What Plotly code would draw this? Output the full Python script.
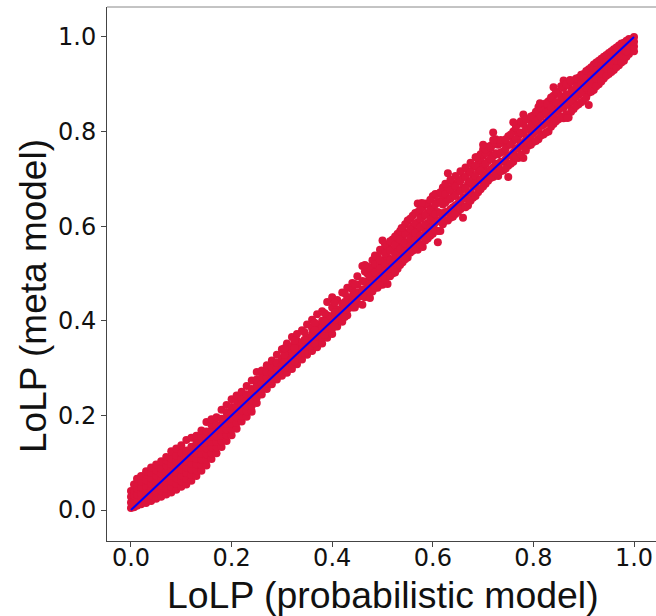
import plotly.graph_objects as go

# LoLP values, one x value per column of dots
x_columns = [0.0,0.006,0.012,0.02,0.03,0.04,0.05,0.06,0.07,0.08,0.09,0.10,0.11,0.12,0.13,0.14,0.15,0.16,0.17,0.18,
 0.19,0.20,0.21,0.22,0.23,0.24,0.25,0.26,0.27,0.28,0.29,0.30,0.31,0.32,0.33,0.34,0.35,0.36,0.37,0.38,0.39,0.40,
 0.41,0.42,0.43,0.44,0.45,0.46,0.47,0.48,0.49,0.50,0.51,0.52,0.53,0.54,0.55,0.56,0.57,0.58,0.59,0.60,
 0.61,0.62,0.63,0.64,0.65,0.66,0.67,0.68,0.69,0.70,0.71,0.72,0.73,0.74,0.75,0.76,0.77,0.78,0.79,0.80,
 0.81,0.82,0.83,0.84,0.85,0.86,0.87,0.88,0.89,0.90,0.91,0.92,0.93,0.94,0.95,0.96,0.97,0.98,0.99,1.0]
y_columns = [
 [.004,.016,.028,.040],[.006,.018,.030,.042,.054],[.009,.021,.033,.045,.057,.066],[.012,.024,.036,.048,.060,.072],
 [.015,.027,.039,.051,.063,.075,.082],[.019,.031,.043,.055,.067,.079,.090],[.024,.036,.048,.060,.072,.084,.096],
 [.028,.040,.052,.064,.076,.088,.103],[.033,.045,.057,.069,.081,.093,.105,.112],[.037,.049,.061,.073,.085,.097,.109,.124],
 [.043,.055,.067,.079,.091,.103,.115,.130],[.049,.061,.073,.085,.097,.109,.121,.137],[.054,.066,.078,.090,.102,.114,.126,.148],
 [.062,.074,.086,.098,.110,.122,.134,.153],[.072,.084,.096,.108,.120,.132,.144,.157],[.083,.095,.107,.119,.131,.143,.155,.168],
 [.094,.106,.118,.130,.142,.154,.166,.186],[.108,.120,.132,.144,.156,.168,.180,.192],[.120,.132,.144,.156,.168,.180,.196],
 [.133,.145,.157,.169,.181,.193,.212],[.146,.158,.170,.182,.194,.206,.222],[.158,.170,.182,.194,.206,.218,.234],
 [.172,.184,.196,.208,.220,.232,.242],[.187,.199,.211,.223,.235,.250],[.197,.209,.221,.233,.245,.262],
 [.208,.220,.232,.244,.256,.274],[.226,.238,.250,.262,.276,.292],[.244,.256,.268,.280,.295],[.256,.268,.280,.292,.306],
 [.266,.278,.290,.302,.316],[.276,.288,.300,.312,.328],[.284,.296,.308,.320,.340],[.290,.302,.314,.326,.338,.352],
 [.298,.310,.322,.334,.346,.366],[.308,.320,.332,.344,.358,.372],[.318,.330,.342,.354,.380],[.328,.340,.352,.364,.392],
 [.336,.348,.360,.372,.384,.402],[.344,.356,.368,.380,.392,.414],[.352,.364,.376,.388,.400,.420],[.364,.376,.388,.400,.412,.440],
 [.372,.384,.396,.410,.428,.450],
 [.388,.400,.412,.424,.444],[.398,.410,.422,.436,.460],[.412,.424,.436,.450,.470],[.428,.440,.452,.466,.480],
 [.436,.448,.460,.476,.494],[.434,.452,.466,.484,.516],[.456,.470,.484,.500,.515],[.462,.478,.492,.508,.528],
 [.470,.490,.506,.520,.536],[.476,.496,.512,.528,.548,.570],[.478,.500,.516,.534,.556],[.500,.518,.530,.552,.572],
 [.510,.528,.546,.566,.584],[.524,.540,.556,.578,.592],[.534,.552,.566,.586,.612],[.548,.562,.580,.600,.622],
 [.550,.566,.590,.608,.630,.648],[.556,.578,.598,.620,.640],[.574,.590,.606,.628,.646],[.584,.600,.620,.638,.664],
 [.566,.590,.612,.630,.652,.668],[.604,.622,.646,.664,.682],[.612,.630,.656,.680,.712],[.620,.640,.664,.690],
 [.630,.648,.674,.694],[.618,.642,.660,.682,.704],[.644,.670,.690,.716],[.660,.684,.702,.726],[.672,.696,.716,.732],
 [.684,.704,.726,.750,.762],[.696,.716,.738,.756,.768],[.704,.724,.748,.772,.798],[.706,.726,.752,.772,.778],
 [.718,.736,.758,.778],[.704,.728,.750,.772,.790],[.736,.756,.780,.800],[.744,.766,.790,.816],[.744,.770,.796,.816,.836],
 [.770,.786,.806,.826],[.778,.796,.816,.834],[.784,.806,.826,.840,.852],[.794,.814,.836,.854],[.800,.824,.844,.864],
 [.816,.836,.856,.876,.894],[.826,.846,.862,.880],[.828,.850,.870,.892,.908],[.830,.856,.878,.898],[.848,.868,.888,.908],
 [.858,.878,.898,.914],[.866,.886,.906,.922],[.856,.882,.900,.918,.932],[.888,.906,.924,.942],[.900,.916,.934,.950],
 [.912,.928,.946,.958],[.922,.938,.954,.966],[.930,.946,.962,.974],[.940,.954,.970,.982],[.950,.964,.978,.988],
 [.964,.976,.988,.996],[.970,.980,.990,1.0],
]
# second set of dots, lying between the columns above
x_between = [.305,.325,.345,.365,.385,.405,.425,.445,.465,.475,.485,.495,.505,.515,.525,.535,.545,.555,.565,.575,
 .585,.595,.605,.615,.625,.635,.645,.655,.665,.675,.685,.695,.705,.715,.725,.735,.745,.755,.765,.775,.785,.795,
 .805,.815,.825,.835,.845,.855,.865,.875,.885,.895,.905,.915,.925,.935,.945,.955,.965,.975,.985]
y_between = [
 [.300,.314,.328,.342],[.314,.328,.342,.358],[.332,.346,.360,.376],[.352,.366,.380,.396],[.370,.384,.398,.416],
 [.388,.402,.418,.438],[.408,.424,.440,.458],[.428,.444,.460,.478],[.450,.466,.482,.504],[.448,.462,.478,.494,.512],
 [.470,.486,.502,.520,.538],[.476,.492,.510,.528,.550],[.488,.504,.522,.542,.562],[.494,.510,.528,.548,.568],
 [.502,.524,.540,.560,.578],[.518,.534,.552,.572,.590],[.530,.548,.564,.584,.604],[.544,.558,.574,.594,.616],
 [.556,.572,.586,.606,.628],[.562,.580,.598,.616,.636],[.570,.586,.604,.624,.648],[.580,.596,.614,.634,.656],
 [.592,.608,.626,.646,.668],[.590,.610,.628,.650,.672],[.612,.630,.650,.668,.690],[.618,.636,.658,.676,.698],
 [.626,.644,.664,.684,.706],[.636,.654,.674,.696,.716],[.640,.658,.680,.704,.724],[.654,.672,.694,.714,.734],
 [.664,.686,.706,.728,.746],[.678,.698,.718,.740,.752],[.690,.710,.732,.754,.762],[.702,.720,.742,.766,.770],
 [.712,.732,.754,.776,.784],[.716,.736,.756,.776,.782],[.722,.742,.764,.784],[.732,.750,.772,.794],[.746,.764,.784,.808],
 [.752,.776,.798,.822],[.760,.782,.804,.826],[.772,.792,.812,.832],[.780,.802,.822,.842],[.792,.812,.832,.850],
 [.798,.820,.840,.860],[.810,.832,.852,.872],[.822,.842,.862,.884],[.832,.854,.874,.896],[.836,.858,.878,.900],
 [.842,.864,.884,.906],[.854,.874,.894,.912],[.862,.882,.902,.920],[.872,.892,.912,.928],[.884,.902,.920,.936],
 [.896,.912,.930,.946],[.906,.922,.940,.954],[.918,.934,.950,.962],[.926,.942,.958,.970],[.936,.950,.966,.978],
 [.946,.960,.974,.986],[.958,.970,.982,.992],
]
# isolated dots away from the band
x_outliers = [.70,.72,.813,.873,.867,.538,.687,.76,.465,.578]
y_outliers = [.772,.782,.860,.909,.829,.596,.746,.820,.518,.649]
line_x = [0.0, 1.0]
line_y = [0.0, 1.0]
tick_values = [0.0, 0.2, 0.4, 0.6, 0.8, 1.0]
tick_labels = ["0.0", "0.2", "0.4", "0.6", "0.8", "1.0"]
x_title = "LoLP (probabilistic model)"
y_title = "LoLP (meta model)"

scatter_x = [x for x, ys in zip(x_columns + x_between, y_columns + y_between) for _ in ys] + x_outliers
scatter_y = [y for ys in y_columns + y_between for y in ys] + y_outliers

fig = go.Figure()
fig.add_trace(go.Scatter(x=scatter_x, y=scatter_y, mode="markers",
                         marker=dict(color="#DC143C", size=8, line=dict(width=0))))
fig.add_trace(go.Scatter(x=line_x, y=line_y, mode="lines", line=dict(color="#0000FF", width=2)))

axis = dict(tickmode="array", tickvals=tick_values, ticktext=tick_labels, showgrid=False, zeroline=False,
            ticks="outside", ticklen=5, tickwidth=1, tickcolor="#444444", showline=True, linecolor="#444444",
            linewidth=1, tickfont=dict(family="DejaVu Sans", size=24, color="#111111"))
fig.update_layout(
    width=656, height=616, showlegend=False, paper_bgcolor="white", plot_bgcolor="white",
    margin=dict(l=107, r=0, t=7, b=75),
    xaxis=dict(axis, range=[-0.0477, 1.0437], mirror=False, ticklabelstandoff=-10),
    yaxis=dict(axis, range=[-0.0655, 1.0634], mirror=False, ticklabelstandoff=0),
    shapes=[dict(type="line", xref="paper", yref="paper", x0=0, x1=1, y0=1, y1=1,
                 line=dict(color="#888888", width=1))],
    annotations=[
        dict(text=x_title, xref="paper", yref="paper", x=0.5, y=0, xanchor="center", yanchor="middle",
             yshift=-54, xshift=1, showarrow=False, font=dict(family="Liberation Sans", size=37.4, color="#111111")),
        dict(text=y_title, xref="paper", yref="paper", x=0, y=0.5, xanchor="center", yanchor="middle",
             xshift=-74, yshift=-22, textangle=-90, showarrow=False,
             font=dict(family="Liberation Sans", size=37, color="#111111")),
    ],
)
fig.write_html("out.html", config=dict(displayModeBar=False),
               post_script="document.body.style.margin='0';")
